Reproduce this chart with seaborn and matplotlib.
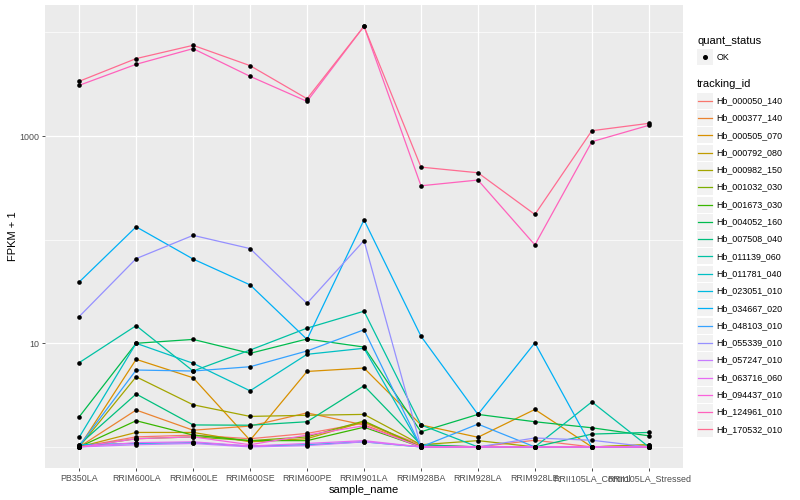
import numpy as np
import pandas as pd
import matplotlib
matplotlib.use("Agg")
import matplotlib.pyplot as plt
import seaborn as sns
from matplotlib.patches import Rectangle
from matplotlib.lines import Line2D
from matplotlib.ticker import NullFormatter

# ---------------- data ----------------
samples = ["PB350LA", "RRIM600LA", "RRIM600LE", "RRIM600SE", "RRIM600PE",
           "RRIM901LA", "RRIM928BA", "RRIM928LA", "RRIM928LE",
           "RRII105LA_Control", "RRII105LA_Stressed"]

tracking_ids = ["Hb_000050_140", "Hb_000377_140", "Hb_000505_070", "Hb_000792_080",
                "Hb_000982_150", "Hb_001032_030", "Hb_001673_030", "Hb_004052_160",
                "Hb_007508_040", "Hb_011139_060", "Hb_011781_040", "Hb_023051_010",
                "Hb_034667_020", "Hb_048103_010", "Hb_055339_010", "Hb_057247_010",
                "Hb_063716_060", "Hb_094437_010", "Hb_124961_010", "Hb_170532_010"]

# FPKM + 1 per sample (same order as samples)
hb_000050_140 = [1.0, 1.25, 1.3, 1.2, 1.35, 1.7, 1.05, 1.0, 1.16, 1.0, 1.0]
hb_000377_140 = [1.0, 2.27, 1.45, 1.59, 2.13, 1.63, 1.02, 1.0, 1.0, 1.0, 1.0]
hb_000505_070 = [1.0, 7.0, 4.65, 1.16, 5.35, 5.77, 1.63, 1.24, 2.30, 1.0, 1.0]
hb_000792_080 = [1.0, 1.38, 1.38, 1.12, 1.2, 1.75, 1.0, 1.0, 1.0, 1.0, 1.05]
hb_000982_150 = [1.0, 4.75, 2.55, 1.97, 2.02, 2.06, 1.05, 1.15, 1.0, 1.0, 1.05]
hb_001032_030 = [1.0, 1.2, 1.25, 1.15, 1.25, 1.78, 1.0, 1.0, 1.0, 1.0, 1.0]
hb_001673_030 = [1.0, 1.79, 1.3, 1.15, 1.15, 1.55, 1.0, 1.0, 1.0, 1.0, 1.0]
hb_004052_160 = [1.95, 10.0, 10.9, 8.0, 11.0, 9.2, 1.40, 2.06, 1.75, 1.53, 1.28]
hb_007508_040 = [1.05, 3.24, 1.63, 1.62, 1.75, 3.89, 1.05, 1.0, 1.0, 1.33, 1.38]
hb_011139_060 = [6.5, 14.8, 5.4, 8.6, 14.0, 20.4, 1.63, 1.0, 1.0, 2.72, 1.0]
hb_011781_040 = [1.24, 10.0, 6.41, 3.48, 7.83, 8.95, 1.0, 1.0, 1.0, 1.0, 1.0]
hb_023051_010 = [1.05, 1.08, 1.1, 1.02, 1.05, 1.12, 1.0, 1.0, 1.0, 1.0, 1.0]
hb_034667_020 = [39.0, 133.0, 65.0, 36.6, 10.9, 155.0, 11.7, 2.06, 10.1, 1.0, 1.0]
hb_048103_010 = [1.02, 5.52, 5.40, 5.94, 8.43, 13.5, 1.0, 1.66, 1.0, 1.0, 1.0]
hb_055339_010 = [18.1, 65.6, 110.0, 82.0, 24.3, 98.0, 1.0, 1.0, 1.22, 1.16, 1.0]
hb_057247_010 = [1.0, 1.05, 1.08, 1.0, 1.03, 1.12, 1.0, 1.0, 1.0, 1.0, 1.0]
hb_063716_060 = [1.0, 1.1, 1.12, 1.02, 1.08, 1.15, 1.0, 1.0, 1.0, 1.0, 1.0]
hb_094437_010 = [1.0, 1.2, 1.25, 1.05, 1.3, 1.6, 1.0, 1.0, 1.0, 1.0, 1.0]
hb_124961_010 = [3083, 4920, 6970, 3765, 2158, 11450, 331, 376, 89, 881, 1268]
hb_170532_010 = [3373, 5585, 7500, 4775, 2290, 11450, 501, 442, 175, 1125, 1325]

series = [hb_000050_140, hb_000377_140, hb_000505_070, hb_000792_080, hb_000982_150,
          hb_001032_030, hb_001673_030, hb_004052_160, hb_007508_040, hb_011139_060,
          hb_011781_040, hb_023051_010, hb_034667_020, hb_048103_010, hb_055339_010,
          hb_057247_010, hb_063716_060, hb_094437_010, hb_124961_010, hb_170532_010]

colors = ["#F8766D", "#EA8331", "#D89000", "#C09B00", "#A3A500", "#7CAE00", "#39B600",
          "#00BB4E", "#00BF7D", "#00C1A3", "#00BFC4", "#00BAE0", "#00B0F6", "#35A2FF",
          "#9590FF", "#C77CFF", "#E76BF3", "#FA62DB", "#FF62BC", "#FF6C91"]

rows = []
for tid, vals in zip(tracking_ids, series):
    for s, v in zip(samples, vals):
        rows.append({"tracking_id": tid, "sample_name": s, "value": v, "quant_status": "OK"})
df = pd.DataFrame(rows)
df["pos"] = pd.Categorical(df["sample_name"], categories=samples).codes

# ---------------- figure ----------------
plt.rcParams["font.family"] = ["Liberation Sans", "DejaVu Sans"]
W, H = 800, 500
fig = plt.figure(figsize=(8, 5), dpi=100)
L, R, T, B = 45, 683, 5, 468.3
ax = fig.add_axes([L / W, 1 - B / H, (R - L) / W, (B - T) / H])
ax.set_facecolor("#EBEBEB")

sns.lineplot(data=df, x="pos", y="value", hue="tracking_id", hue_order=tracking_ids,
             palette=colors, estimator=None, sort=False, lw=0.9, legend=False, ax=ax)
sns.scatterplot(data=df, x="pos", y="value", color="black", s=11, linewidth=0,
                legend=False, ax=ax, zorder=3)

ax.set_yscale("log")
ax.set_ylim(0.622, 18370)
ax.set_xlim(-0.6, len(samples) - 0.4)
ax.set_yticks([10, 1000])
ax.set_yticklabels(["10", "1000"])
ax.set_yticks([1, 100, 10000], minor=True)
ax.yaxis.set_minor_formatter(NullFormatter())
ax.set_xticks(range(len(samples)))
ax.set_xticklabels(samples)
ax.tick_params(axis="both", which="major", length=2.5, width=0.6, color="#333333",
               labelsize=6.4, labelcolor="#4D4D4D", pad=1.5)
ax.tick_params(axis="y", which="minor", length=0)
ax.tick_params(axis="x", which="minor", length=0)
ax.grid(which="major", color="white", lw=0.9)
ax.grid(which="minor", axis="y", color="white", lw=0.5)
ax.set_axisbelow(True)
for sp in ax.spines.values():
    sp.set_visible(False)
ax.set_xlabel("sample_name", fontsize=8, labelpad=1.5)
ax.set_ylabel("FPKM + 1", fontsize=8, labelpad=1.0)

# ---------------- legend (ggplot style) ----------------
def fy(py):
    return 1 - py / H

def fx(px):
    return px / W

kx, kw = 697, 16
fig.text(fx(kx), fy(40.7), "quant_status", fontsize=8, va="center", ha="left")
fig.patches.append(Rectangle((fx(kx), fy(57 + kw / 2)), kw / W, kw / H,
                             transform=fig.transFigure, facecolor="#F2F2F2",
                             edgecolor="none"))
fig.lines.append(Line2D([fx(kx + kw / 2)], [fy(57)], transform=fig.transFigure,
                        marker="o", markersize=2.6, color="black", linestyle="none"))
fig.text(fx(716.5), fy(57), "OK", fontsize=6.4, va="center", ha="left")

fig.text(fx(kx), fy(84), "tracking_id", fontsize=8, va="center", ha="left")
for i, (tid, c) in enumerate(zip(tracking_ids, colors)):
    cy = 100.7 + i * 17.3
    fig.patches.append(Rectangle((fx(kx), fy(cy + kw / 2)), kw / W, kw / H,
                                 transform=fig.transFigure, facecolor="#F2F2F2",
                                 edgecolor="none"))
    fig.lines.append(Line2D([fx(kx + 1), fx(kx + kw - 1)], [fy(cy), fy(cy)],
                            transform=fig.transFigure, color=c, lw=0.9))
    fig.text(fx(716.5), fy(cy), tid, fontsize=6.4, va="center", ha="left")

fig.savefig("out.png", dpi=100, facecolor="white")
